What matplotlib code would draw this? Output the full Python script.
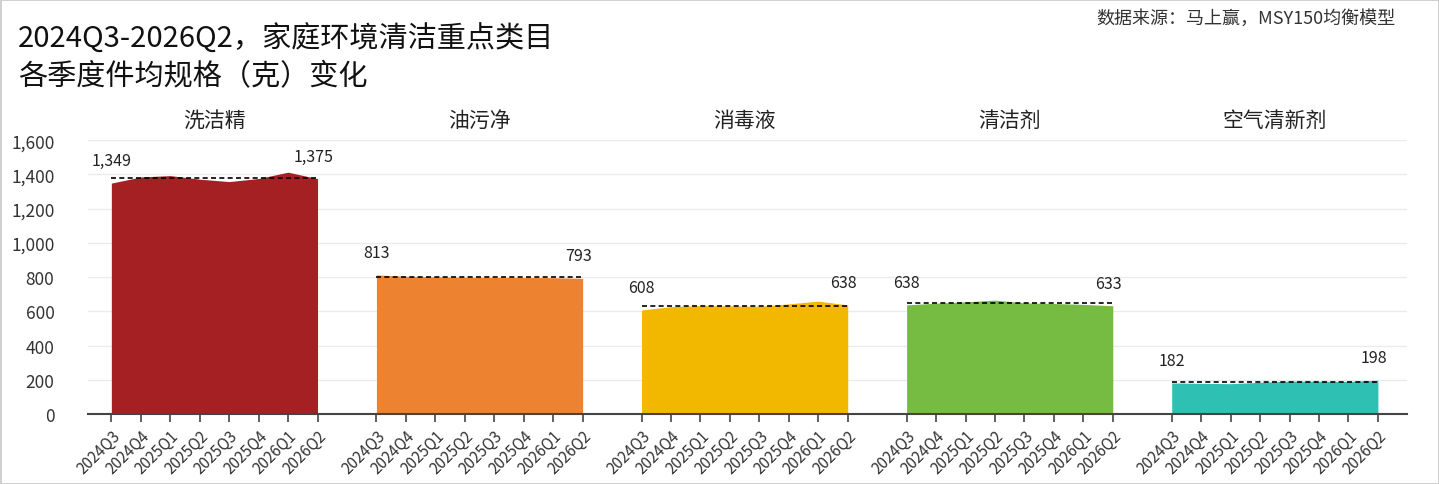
import numpy as np
import matplotlib
matplotlib.use('Agg')
import matplotlib.pyplot as plt
from matplotlib.ticker import FuncFormatter

plt.rcParams['font.family'] = ['Noto Sans CJK SC', 'DejaVu Sans']

# Data
quarters = ['2024Q3', '2024Q4', '2025Q1', '2025Q2',
            '2025Q3', '2025Q4', '2026Q1', '2026Q2']
categories = ['洗洁精', '油污净', '消毒液', '清洁剂', '空气清新剂']
dish = [1349, 1385, 1393, 1372, 1358, 1376, 1413, 1375]
grease = [813, 805, 802, 800, 799, 798, 797, 793]
disinfect = [608, 628, 634, 632, 630, 644, 660, 638]
cleaner = [638, 648, 656, 666, 650, 646, 641, 633]
airfresh = [182, 180, 178, 186, 193, 192, 191, 198]
series = [dish, grease, disinfect, cleaner, airfresh]
colors = ['#A52023', '#ED8231', '#F2B800', '#76BC43', '#2EC1B3']

fig = plt.figure(figsize=(14.39, 4.85), dpi=100)
fig.patch.set_edgecolor('#D0D0D0')
fig.patch.set_linewidth(2)
ax = fig.add_axes([0.061, 0.144, 0.917, 0.565])

n = len(quarters)
tick_pos = []
tick_lab = []
for g, (vals, col) in enumerate(zip(series, colors)):
    x = np.arange(n) + g * (n + 1)
    vals = np.array(vals, dtype=float)
    ax.fill_between(x, 0, vals, color=col, lw=0, zorder=2)
    # dashed line at the average of the quarters
    ax.hlines(vals.mean(), x[0], x[-1], colors='black', linestyles=(0, (3, 2)),
              lw=1.2, zorder=3)
    ax.annotate(f'{int(vals[0]):,}', (x[0], vals[0]), xytext=(0, 10),
                textcoords='offset points', ha='center', va='bottom',
                fontsize=11.5, color='#222222')
    ax.annotate(f'{int(vals[-1]):,}', (x[-1], vals[-1]), xytext=(-3, 10),
                textcoords='offset points', ha='center', va='bottom',
                fontsize=11.5, color='#222222')
    ax.text(x.mean(), 1720, categories[g], ha='center', va='center',
            fontsize=15, color='#222222', clip_on=False)
    tick_pos.extend(x)
    tick_lab.extend(quarters)

ax.set_xlim(-0.8, 44)
ax.set_ylim(0, 1600)
ax.set_yticks(np.arange(0, 1601, 200))
ax.yaxis.set_major_formatter(FuncFormatter(lambda v, p: f'{int(v):,}'))
ax.set_xticks(tick_pos)
ax.set_xticklabels(tick_lab, rotation=45, ha='right', rotation_mode='anchor',
                   fontsize=11, color='#333333')
ax.tick_params(axis='x', length=6, width=1.2, color='#444444', pad=3)
ax.tick_params(axis='y', length=0, labelsize=12.5, pad=24, colors='#333333')
ax.grid(axis='y', color='#EBEBEB', lw=1, zorder=0)
ax.set_axisbelow(True)
for s in ['left', 'right', 'top']:
    ax.spines[s].set_visible(False)
ax.spines['bottom'].set_color('#444444')
ax.spines['bottom'].set_linewidth(1.5)
ax.spines['bottom'].set_zorder(4)

fig.text(0.0125, 0.918, '2024Q3-2026Q2，家庭环境清洁重点类目', fontsize=21,
         va='center', ha='left', color='#111111')
fig.text(0.0125, 0.843, '各季度件均规格（克）变化', fontsize=21,
         va='center', ha='left', color='#111111')
fig.text(0.97, 0.962, '数据来源：马上赢，MSY150均衡模型', fontsize=13,
         va='center', ha='right', color='#333333')

fig.savefig('out.png', dpi=100)
